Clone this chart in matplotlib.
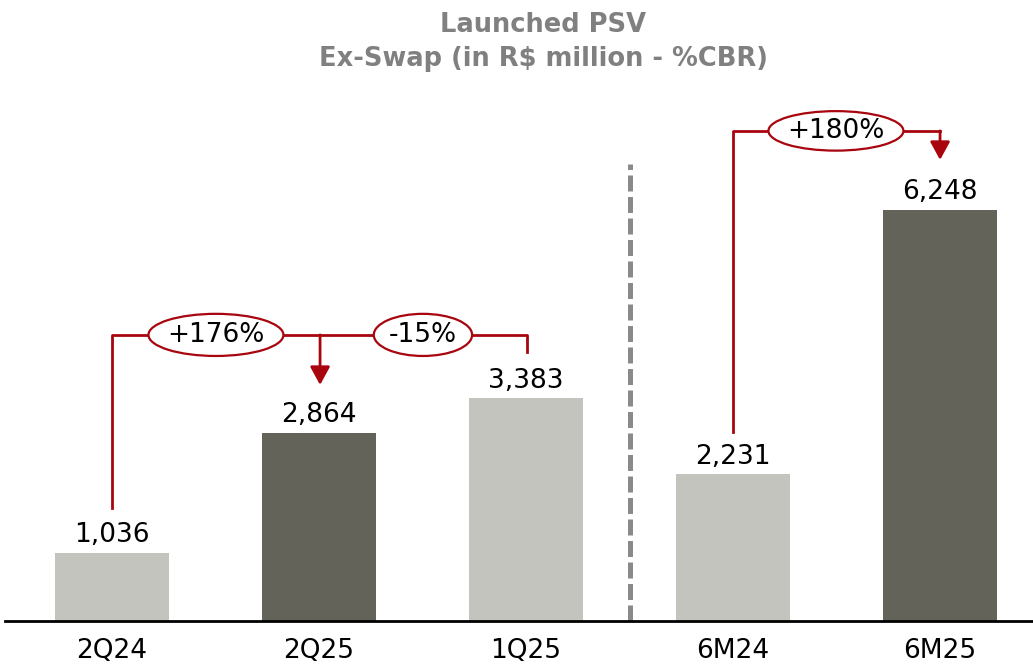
import matplotlib.pyplot as plt
from matplotlib.patches import Ellipse

periods = ["2Q24", "2Q25", "1Q25", "6M24", "6M25"]
psv = [1036, 2864, 3383, 2231, 6248]
highlight = [False, True, False, False, True]
growth_labels = ["+176%", "-15%", "+180%"]

light = "#C4C4BE"
dark = "#64635A"
red = "#A8050F"

fig = plt.figure(figsize=(10.33, 6.67), dpi=100)
ax = fig.add_axes([5 / 1033, 46 / 667, 1 - 5 / 1033, 541 / 667])

x = list(range(len(periods)))
colors = [dark if h else light for h in highlight]
ax.bar(x, psv, width=0.555, color=colors, zorder=2)

for xi, v in zip(x, psv):
    ax.text(xi, v + 70, f"{v:,}", ha="center", va="bottom", fontsize=19)

ax.set_xlim(-0.517, 4.449)
ax.set_ylim(0, 8220)
ax.set_xticks(x)
ax.set_xticklabels(periods, fontsize=19)
ax.tick_params(axis="x", length=0, pad=12)
ax.set_yticks([])
for s in ["top", "left", "right"]:
    ax.spines[s].set_visible(False)
ax.spines["bottom"].set_linewidth(2)

# separator between quarters and semesters
ax.plot([2.5, 2.5], [0, 6950], color="#8A8A8A", lw=3.6, ls=(0, (3.2, 1.1)), zorder=1)


def bracket(x0, y0, x1, y1, ytop, arrow_x, arrow_tip, label_xs, labels, ew, eh=620):
    ax.plot([x0, x0, x1, x1], [y0, ytop, ytop, y1], color=red, lw=2, zorder=3)
    ax.annotate("", xy=(arrow_x, arrow_tip), xytext=(arrow_x, ytop),
                arrowprops=dict(arrowstyle="-|>,head_length=1.1,head_width=0.6",
                                color=red, lw=2, shrinkA=0, shrinkB=0), zorder=3)
    for lx, lab, w in zip(label_xs, labels, ew):
        ax.add_patch(Ellipse((lx, ytop), w, eh, facecolor="white", edgecolor=red,
                             lw=1.6, zorder=4))
        ax.text(lx, ytop, lab, ha="center", va="center", fontsize=19, zorder=5)


# 2Q24 -> 2Q25 and 1Q25 -> 2Q25
bracket(0, 1717, 2.005, 4088, 4347, 1.005, 3587, [0.502, 1.502],
        growth_labels[:2], [0.652, 0.475], eh=640)
# 6M24 -> 6M25
bracket(3, 2872, 4, 7447, 7447, 4, 7006, [3.497], growth_labels[2:], [0.652], eh=600)

fig.text(0.526, 0.962, "Launched PSV", ha="center", va="center",
         fontsize=18.5, fontweight="bold", color="#808080")
fig.text(0.526, 0.912, "Ex-Swap (in R$ million - %CBR)", ha="center", va="center",
         fontsize=18.5, fontweight="bold", color="#808080")

fig.savefig("out.png", dpi=100)
